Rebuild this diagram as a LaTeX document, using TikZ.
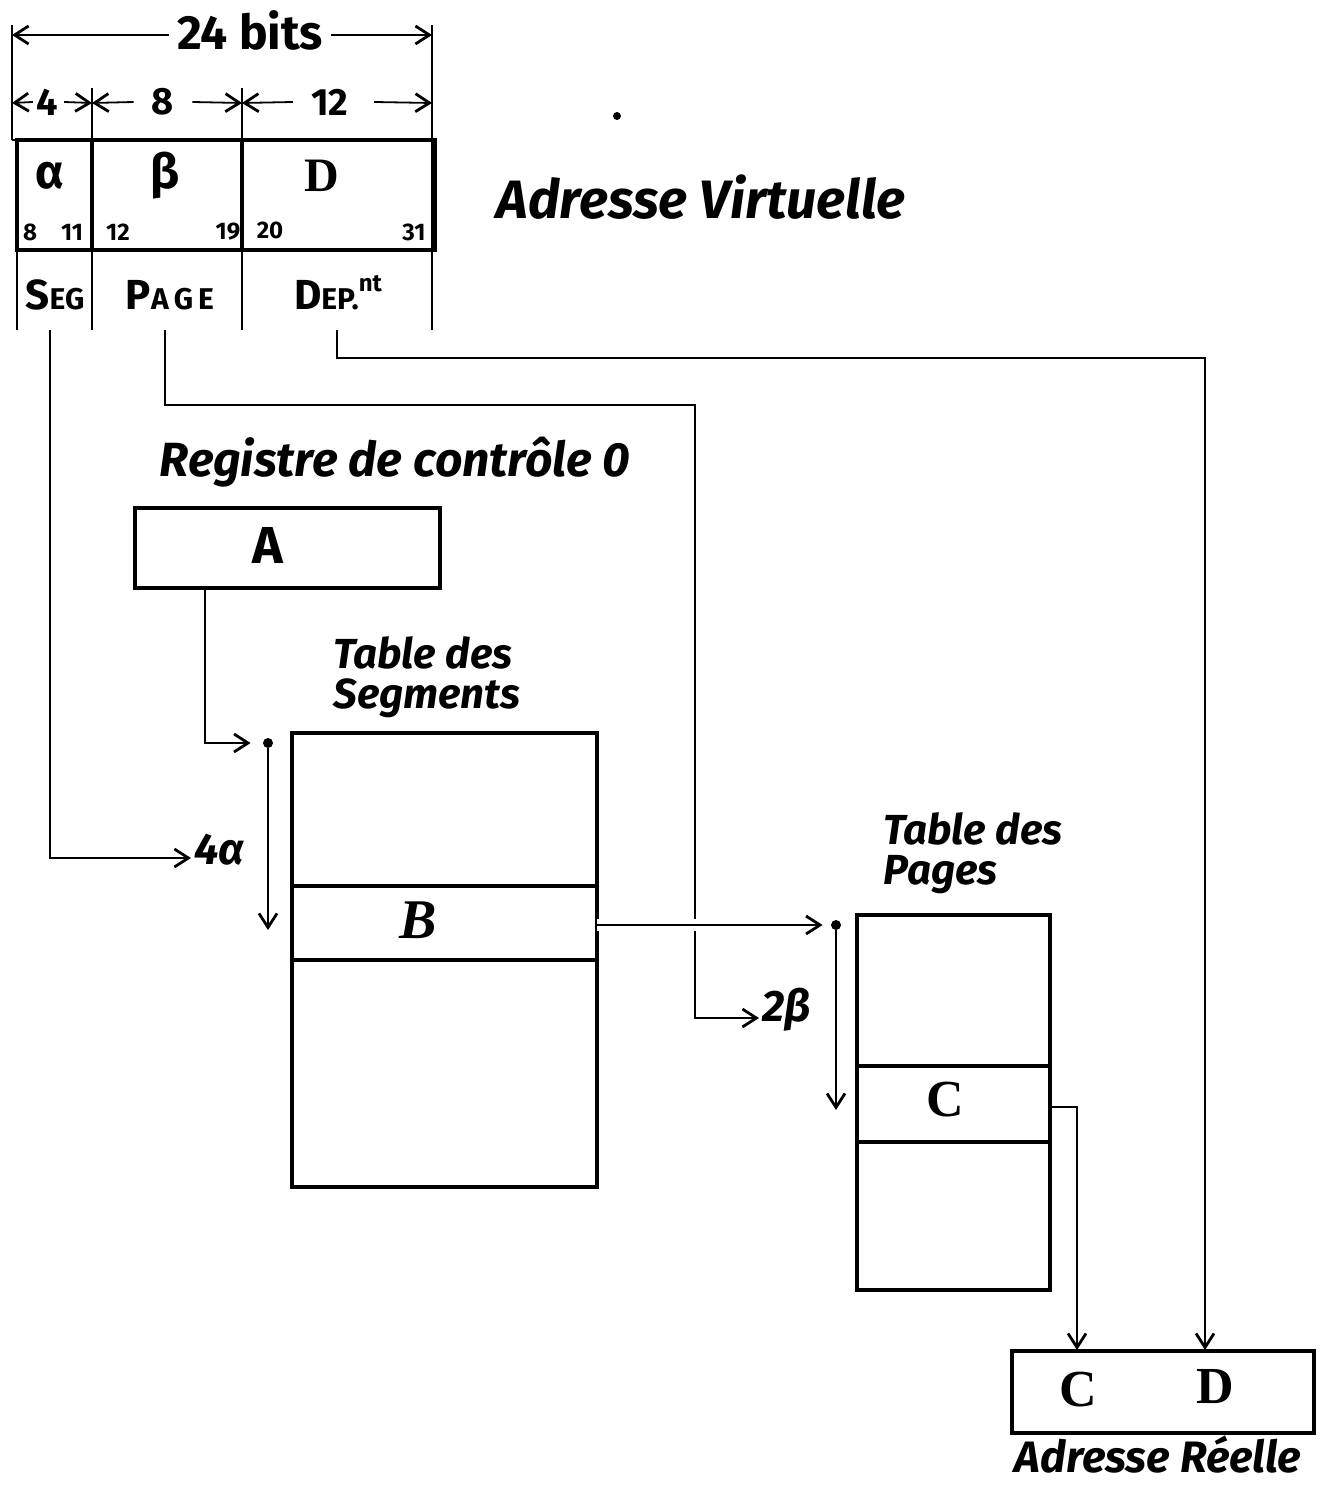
\documentclass[tikz,border=0pt]{standalone}
\usepackage{fontspec}
\setmainfont{Fira Sans}
\newfontfamily\serifbf{Liberation Serif}
\usetikzlibrary{arrows.meta}
\begin{document}
\begin{tikzpicture}[x=0.5pt,y=-0.5pt,
  thinline/.style={line width=0.9pt},
  heavy/.style={line width=2pt},
  arr/.style={thinline,-{Straight Barb[length=7pt,width=9pt,line width=1.4pt]}},
  txt/.style={inner sep=0pt},
  hand/.style={txt,font=\fontsize{22}{24}\selectfont\bfseries\itshape},
  big/.style={txt,font=\fontsize{26}{28}\selectfont\bfseries},
  mid/.style={txt,font=\fontsize{19}{21}\selectfont\bfseries},
  tiny/.style={txt,font=\fontsize{12}{13}\selectfont\bfseries},
  capsl/.style={txt,font=\fontsize{21}{23}\selectfont\bfseries},
  dotnode/.style={circle,fill=black,inner sep=0pt,minimum size=5pt},
  boxnode/.style={draw,heavy,rectangle,inner sep=0pt}]
\useasboundingbox (0,0) rectangle (1322,1486);

% ---------- header: 24 bits ----------
\coordinate (L24) at (12,35);
\coordinate (R24) at (432,35);
\node[txt,font=\fontsize{24}{26}\selectfont\bfseries] (t24) at (250,30) {24 bits};
\draw[arr] (t24.west|-L24) ++(-8,0) -- (L24);
\draw[arr] (t24.east|-R24) ++(8,0) -- (R24);

\coordinate (Lf) at (12,103);
\coordinate (Sa) at (92,103);
\coordinate (Sb) at (242,103);
\coordinate (Rf) at (432,103);
\node[mid] (n4) at (47,102) {4};
\node[mid] (n8) at (163,102) {8};
\node[mid] (n12) at (330,102) {12};
\draw[arr] (n4.west) ++(-3,0) -- (Lf);
\draw[arr] (n4.east) ++(6,0) -- (Sa);
\draw[arr] (n8.west) ++(-18,0) -- (Sa);
\draw[arr] (n8.east) ++(18,0) -- (Sb);
\draw[arr] (n12.west) ++(-18,0) -- (Sb);
\draw[arr] (n12.east) ++(25,0) -- (Rf);

% vertical guide lines
\draw[thinline] (12,25) -- (12,140);
\draw[thinline] (432,25) -- (432,330);
\draw[thinline] (92,88) -- (92,330);
\draw[thinline] (242,88) -- (242,330);
\draw[thinline] (17,250) -- (17,330);
\draw[thinline] (12,140) -- (17,140);

% ---------- virtual address fields ----------
\node[boxnode,minimum width=37.5pt,minimum height=55pt] (fa) at (54.5,195) {};
\node[boxnode,minimum width=75pt,minimum height=55pt] (fb) at (167,195) {};
\node[boxnode,minimum width=96.5pt,minimum height=55pt] (fd) at (338.5,195) {};
\node[txt,font=\fontsize{24}{26}\selectfont\bfseries] (alpha) at (50,176) {α};
\node[txt,font=\fontsize{24}{26}\selectfont\bfseries] (beta) at (165,176) {β};
\node[txt,font=\fontsize{24}{26}\selectfont\serifbf\bfseries] (dd) at (322,176) {D};
\node[tiny] (b8) at (30,232) {8};
\node[tiny] (b11) at (72,232) {11};
\node[tiny] (b12) at (118,232) {12};
\node[tiny] (b19) at (228,232) {19};
\node[tiny] (b20) at (270,230) {20};
\node[tiny] (b31) at (414,232) {31};

\node[capsl] (seg) at (55,295) {S\fontsize{15}{17}\selectfont EG};
\node[capsl] (page) at (170,295) {P\fontsize{15}{17}\selectfont A\,G\,E};
\node[capsl] (dep) at (338,293) {D\fontsize{15}{17}\selectfont EP.\raisebox{9pt}{\fontsize{12}{13}\selectfont nt}};

\node[hand,font=\fontsize{27}{29}\selectfont\bfseries\itshape] (virt) at (701,197) {Adresse Virtuelle};
\node[dotnode,minimum size=4pt] (blot) at (617,116) {};

% ---------- control register ----------
\node[hand,font=\fontsize{24}{26}\selectfont\bfseries\itshape] (reg) at (395,462) {Registre de contrôle 0};
\node[boxnode,minimum width=152.5pt,minimum height=40pt] (abox) at (287.5,548) {};
\node[big] (aa) at (268,545) {A};

% ---------- segment table ----------
\node[hand,align=left,anchor=north west,font=\fontsize{21}{20}\selectfont\bfseries\itshape] (segt) at (333,636) {Table des\\Segments};
\node[boxnode,minimum width=152.5pt,minimum height=227pt] (segtab) at (444.5,960) {};
\draw[heavy] (segtab.west|-0,886) -- (segtab.east|-0,886);
\draw[heavy] (segtab.west|-0,960) -- (segtab.east|-0,960);
\node[big,font=\fontsize{28}{30}\selectfont\serifbf\bfseries\itshape] (bb) at (418,920) {B};
\node[dotnode] (dot1) at (268,743) {};
\node[txt,font=\fontsize{22}{24}\selectfont\bfseries\itshape,anchor=west] (fa4) at (194,850) {4α};

% ---------- page table ----------
\node[hand,align=left,anchor=north west,font=\fontsize{21}{20}\selectfont\bfseries\itshape] (paget) at (883,812) {Table des\\Pages};
\node[boxnode,minimum width=96.5pt,minimum height=187.5pt] (pagetab) at (953.5,1102.5) {};
\draw[heavy] (pagetab.west|-0,1066) -- (pagetab.east|-0,1066);
\draw[heavy] (pagetab.west|-0,1142) -- (pagetab.east|-0,1142);
\node[big,font=\fontsize{26}{28}\selectfont\serifbf\bfseries] (cc) at (945,1100) {C};
\node[dotnode] (dot2) at (836,925) {};
\node[txt,font=\fontsize{22}{24}\selectfont\bfseries\itshape,anchor=west] (fb2) at (762,1010) {2β};

% ---------- real address ----------
\node[boxnode,minimum width=151pt,minimum height=41pt] (res) at (1163,1392) {};
\node[big,font=\fontsize{26}{28}\selectfont\serifbf\bfseries] (rc) at (1078,1390) {C};
\node[big,font=\fontsize{26}{28}\selectfont\serifbf\bfseries] (rd) at (1215,1387) {D};
\node[hand,anchor=base,font=\fontsize{22}{24}\selectfont\bfseries\itshape] (reel) at (1158,1472) {Adresse Réelle};

% ---------- connectors ----------
\coordinate (segS) at (50,330);
\coordinate (pageS) at (165,330);
\coordinate (depS) at (337,330);
\coordinate (aS) at (205,588);
\coordinate (bS) at (597,925);
\coordinate (cS) at (1050,1107);
\coordinate (resC) at (1077,1350);
\coordinate (resD) at (1205,1350);
\coordinate (segEnd) at (268,930);
\coordinate (pageEnd) at (836,1110);
\coordinate (fa4in) at ([xshift=-1.5pt]fa4.west);
\coordinate (fb2in) at ([xshift=-1.5pt]fb2.west);

% segment index -> 4 alpha
\draw[arr] (segS) -- (50,858) -- (fa4in|-0,858);
% page index -> 2 beta
\draw[arr] (pageS) -- (165,405) -- (695,405) -- (695,1018) -- (fb2in|-0,1018);
% displacement -> real address
\draw[arr] (depS) -- (337,358) -- (1205,358) -- (resD);
% register A -> segment table origin
\draw[arr] (aS) -- (205,743) -- ([xshift=-6pt]dot1.west);
\draw[arr] (dot1) -- (segEnd);
% B -> page table origin (with crossing gap)
\draw[arr,preaction={draw,white,line width=6pt,arrows=-}] (bS) -- ([xshift=-4pt]dot2.west);
\draw[arr] (dot2) -- (pageEnd);
% C -> real address
\draw[arr] (cS) -- (1077,1107) -- (resC);
\end{tikzpicture}
\end{document}
